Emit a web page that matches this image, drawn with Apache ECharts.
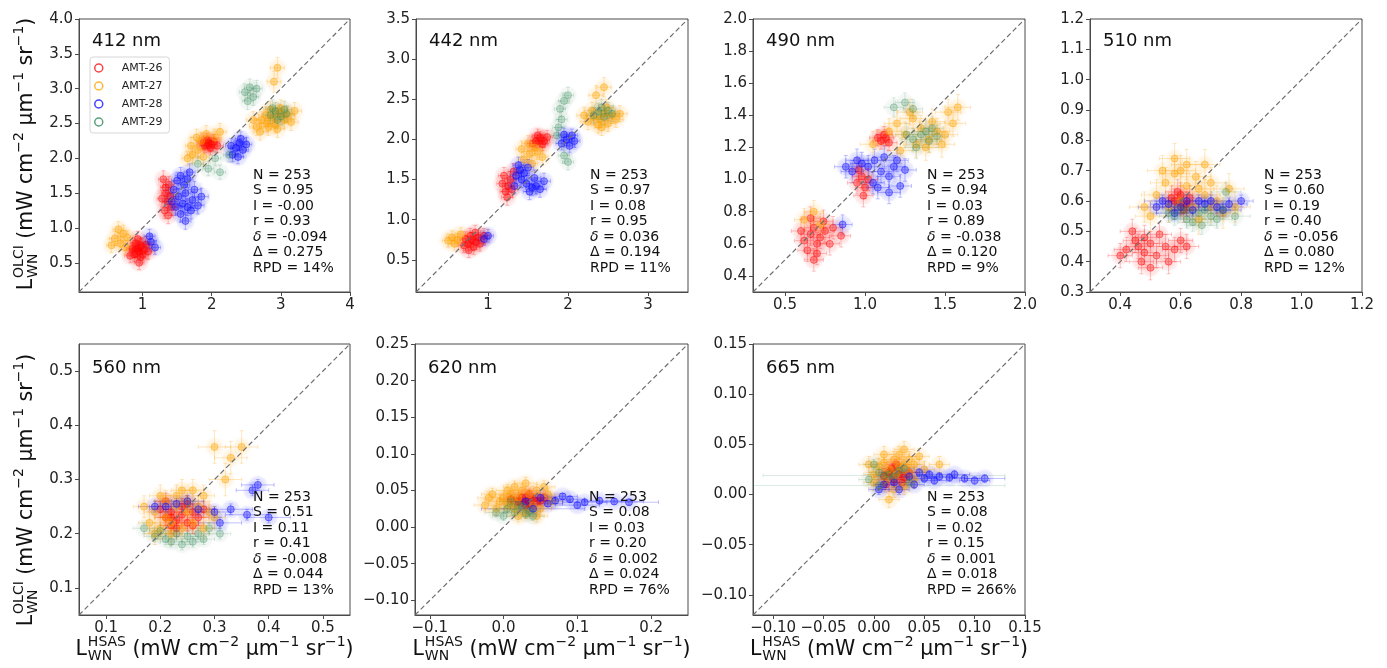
<!DOCTYPE html>
<html>
<head>
<meta charset="utf-8">
<script src="https://cdn.jsdelivr.net/npm/echarts@6/dist/echarts.min.js"></script>
<style>
  html, body { margin: 0; padding: 0; background: #ffffff; }
  #chart { width: 1387px; height: 668px; }
</style>
</head>
<body>
<div id="chart"></div>
<script>
// OLCI vs HSAS normalised water-leaving radiance match-ups, one panel per band.
// Each point: [HSAS value, OLCI value, HSAS uncertainty, OLCI uncertainty]

const cruises = ['AMT-26', 'AMT-27', 'AMT-28', 'AMT-29'];
const bands = ['412 nm', '442 nm', '490 nm', '510 nm', '560 nm', '620 nm', '665 nm'];

// ---- 412 nm ----
const amt26_412 = [[0.88,0.62,0.08,0.10],[0.92,0.70,0.07,0.12],[0.95,0.66,0.09,0.10],[0.98,0.74,0.08,0.11],[1.02,0.68,0.10,0.12],[0.90,0.78,0.07,0.10],[0.85,0.70,0.08,0.09],[0.97,0.58,0.08,0.10],[1.05,0.76,0.09,0.12],[0.93,0.84,0.07,0.11],[0.82,0.60,0.08,0.10],[1.00,0.62,0.08,0.09],[0.95,0.50,0.07,0.10],[1.08,0.66,0.09,0.11],[0.89,0.68,0.08,0.10],[0.96,0.76,0.08,0.10],
  [1.32,1.25,0.07,0.12],[1.36,1.38,0.07,0.13],[1.34,1.50,0.07,0.12],[1.38,1.62,0.08,0.12],[1.30,1.70,0.07,0.12],[1.40,1.45,0.08,0.13],[1.33,1.58,0.07,0.11],[1.28,1.42,0.07,0.12],[1.42,1.30,0.08,0.12],[1.37,1.18,0.07,0.12],
  [1.90,2.18,0.08,0.10],[1.95,2.22,0.08,0.10],[2.00,2.20,0.08,0.10],[1.93,2.26,0.08,0.10],[1.98,2.15,0.08,0.10],[2.03,2.24,0.09,0.10],[1.88,2.22,0.08,0.10],[1.96,2.19,0.08,0.10],[2.08,2.18,0.09,0.10]];
const amt27_412 = [[0.60,0.85,0.08,0.10],[0.68,0.78,0.08,0.10],[0.72,0.92,0.08,0.12],[0.55,0.75,0.07,0.10],[0.78,0.86,0.08,0.10],[0.65,0.98,0.08,0.11],[0.75,0.72,0.08,0.10],
  [1.72,2.05,0.08,0.12],[1.80,2.12,0.08,0.12],[1.85,2.25,0.08,0.12],[1.78,2.30,0.08,0.12],[1.92,2.35,0.08,0.12],[2.05,2.30,0.09,0.12],[1.70,2.18,0.08,0.12],[1.88,2.02,0.08,0.11],[2.12,2.38,0.09,0.12],[1.65,2.00,0.08,0.10],
  [2.65,2.45,0.10,0.12],[2.72,2.55,0.10,0.12],[2.80,2.50,0.10,0.12],[2.78,2.62,0.10,0.12],[2.88,2.58,0.10,0.12],[2.92,2.48,0.10,0.12],[2.98,2.65,0.10,0.12],[3.05,2.55,0.10,0.12],[3.10,2.62,0.10,0.12],[2.70,2.38,0.10,0.12],[2.85,2.70,0.10,0.12],[3.15,2.52,0.10,0.12],[2.60,2.55,0.10,0.12],[2.95,2.42,0.10,0.12],[3.00,2.72,0.10,0.12],[2.82,2.45,0.10,0.12],[2.90,3.10,0.10,0.15],[2.95,3.30,0.10,0.15],[3.20,2.68,0.10,0.12]];
const amt28_412 = [[1.45,1.55,0.08,0.12],[1.50,1.68,0.08,0.12],[1.55,1.75,0.08,0.12],[1.60,1.62,0.08,0.12],[1.65,1.70,0.08,0.12],[1.52,1.45,0.08,0.12],[1.58,1.35,0.08,0.12],[1.65,1.30,0.09,0.12],[1.72,1.40,0.09,0.12],[1.48,1.30,0.08,0.12],[1.62,1.50,0.08,0.12],[1.75,1.55,0.09,0.12],[1.70,1.25,0.09,0.12],[1.80,1.32,0.09,0.12],[1.42,1.38,0.08,0.12],[1.68,1.80,0.08,0.12],[1.55,1.20,0.08,0.12],[1.85,1.45,0.10,0.12],[1.62,1.10,0.08,0.12],
  [2.30,2.05,0.08,0.10],[2.35,2.15,0.08,0.10],[2.40,2.22,0.08,0.10],[2.45,2.12,0.08,0.10],[2.38,2.02,0.08,0.10],[2.50,2.20,0.08,0.10],[2.28,2.18,0.08,0.10],[2.42,2.28,0.08,0.10],
  [1.12,0.80,0.08,0.10],[1.18,0.72,0.08,0.10],[1.10,0.88,0.08,0.10]];
const amt29_412 = [[2.85,2.62,0.10,0.12],[2.92,2.68,0.10,0.12],[3.00,2.60,0.10,0.12],[3.05,2.70,0.10,0.12],[2.95,2.55,0.10,0.12],[3.08,2.64,0.10,0.12],[2.88,2.72,0.10,0.12],
  [2.48,2.95,0.08,0.12],[2.55,3.02,0.08,0.12],[2.60,2.88,0.08,0.12],[2.52,2.82,0.08,0.12],[2.65,3.00,0.08,0.12],
  [2.12,1.80,0.08,0.10],[1.80,1.92,0.08,0.10],[1.95,1.85,0.08,0.10],[2.25,2.05,0.08,0.10],[2.05,2.00,0.08,0.10]];

// ---- 442 nm ----
const amt26_442 = [[0.75,0.70,0.07,0.09],[0.80,0.75,0.07,0.09],[0.85,0.72,0.07,0.09],[0.78,0.80,0.07,0.09],[0.88,0.78,0.07,0.09],[0.72,0.76,0.07,0.09],[0.82,0.66,0.07,0.09],[0.90,0.70,0.07,0.09],[0.76,0.62,0.07,0.09],[0.84,0.84,0.07,0.09],[0.70,0.68,0.07,0.09],[0.95,0.80,0.07,0.09],
  [1.22,1.35,0.07,0.10],[1.25,1.42,0.07,0.10],[1.28,1.50,0.07,0.10],[1.20,1.55,0.07,0.10],[1.30,1.38,0.07,0.10],[1.24,1.28,0.07,0.10],[1.18,1.45,0.07,0.10],[1.32,1.60,0.07,0.10],
  [1.60,1.98,0.07,0.08],[1.65,2.02,0.07,0.08],[1.70,1.98,0.07,0.08],[1.62,2.05,0.07,0.08],[1.68,1.94,0.07,0.08],[1.74,2.03,0.07,0.08],[1.56,1.95,0.07,0.08],[1.66,1.99,0.07,0.08]];
const amt27_442 = [[0.55,0.78,0.07,0.08],[0.62,0.75,0.07,0.08],[0.58,0.70,0.07,0.08],[0.66,0.82,0.07,0.08],[0.50,0.74,0.07,0.08],
  [1.45,1.75,0.07,0.10],[1.52,1.82,0.07,0.10],[1.58,1.90,0.07,0.10],[1.50,1.95,0.07,0.10],[1.62,1.85,0.07,0.10],[1.42,1.88,0.07,0.10],[1.55,1.70,0.07,0.10],[1.68,1.78,0.07,0.10],
  [2.25,2.22,0.09,0.10],[2.32,2.28,0.09,0.10],[2.40,2.25,0.09,0.10],[2.45,2.32,0.09,0.10],[2.50,2.20,0.09,0.10],[2.55,2.30,0.09,0.10],[2.38,2.18,0.09,0.10],[2.30,2.36,0.09,0.10],[2.60,2.25,0.09,0.10],[2.20,2.30,0.09,0.10],[2.48,2.40,0.09,0.10],[2.65,2.32,0.09,0.10],[2.42,2.15,0.09,0.10],[2.35,2.55,0.09,0.12],[2.45,2.65,0.09,0.12]];
const amt28_442 = [[1.35,1.55,0.07,0.10],[1.40,1.62,0.07,0.10],[1.45,1.58,0.07,0.10],[1.50,1.65,0.07,0.10],[1.42,1.50,0.07,0.10],[1.48,1.45,0.07,0.10],[1.55,1.40,0.08,0.10],[1.60,1.42,0.08,0.10],[1.52,1.35,0.08,0.10],[1.38,1.68,0.07,0.10],[1.58,1.52,0.08,0.10],[1.65,1.38,0.08,0.10],[1.33,1.42,0.07,0.10],[1.70,1.48,0.08,0.10],
  [1.92,1.95,0.07,0.08],[1.98,2.00,0.07,0.08],[2.02,1.92,0.07,0.08],[2.05,2.05,0.07,0.08],[1.95,2.06,0.07,0.08],[2.08,1.98,0.07,0.08],
  [1.00,0.80,0.07,0.08],[0.95,0.76,0.07,0.08]];
const amt29_442 = [[2.32,2.30,0.09,0.10],[2.38,2.35,0.09,0.10],[2.45,2.28,0.09,0.10],[2.50,2.36,0.09,0.10],[2.42,2.40,0.09,0.10],[2.55,2.32,0.09,0.10],
  [1.88,2.15,0.07,0.10],[1.92,2.25,0.07,0.10],[1.90,2.38,0.07,0.10],[1.95,2.48,0.07,0.10],[1.86,2.05,0.07,0.10],[2.00,2.55,0.07,0.10],
  [2.00,1.72,0.07,0.10],[1.95,1.80,0.07,0.10]];

// ---- 490 nm ----
const amt26_490 = [[0.62,0.62,0.06,0.07],[0.66,0.66,0.06,0.07],[0.70,0.60,0.06,0.07],[0.68,0.70,0.06,0.07],[0.72,0.64,0.06,0.07],[0.64,0.56,0.06,0.07],[0.75,0.68,0.06,0.07],[0.70,0.54,0.06,0.07],[0.60,0.68,0.06,0.07],[0.78,0.60,0.06,0.07],[0.66,0.76,0.06,0.07],[0.74,0.74,0.06,0.07],[0.80,0.70,0.06,0.07],[0.68,0.50,0.06,0.07],[0.85,0.65,0.06,0.07],
  [0.95,0.98,0.06,0.07],[0.98,1.02,0.06,0.07],[1.00,0.95,0.06,0.07],[0.96,1.06,0.06,0.07],[1.02,1.00,0.06,0.07],[0.99,0.90,0.06,0.07],
  [1.10,1.24,0.05,0.05],[1.13,1.26,0.05,0.05],[1.15,1.23,0.05,0.05],[1.12,1.28,0.05,0.05],[1.08,1.26,0.05,0.05]];
const amt27_490 = [[1.05,1.22,0.08,0.08],[1.15,1.30,0.08,0.08],[1.20,1.35,0.08,0.08],[1.25,1.28,0.08,0.08],[1.30,1.38,0.08,0.08],[1.35,1.32,0.08,0.08],[1.40,1.25,0.08,0.08],[1.45,1.30,0.08,0.08],[1.38,1.20,0.08,0.08],[1.50,1.28,0.08,0.08],[1.32,1.22,0.08,0.08],[1.42,1.36,0.08,0.08],[1.28,1.42,0.08,0.08],[1.55,1.35,0.08,0.08],[1.22,1.18,0.08,0.08],[1.48,1.22,0.08,0.08],
  [1.58,1.45,0.08,0.08],[1.52,1.42,0.08,0.08],
  [0.62,0.75,0.06,0.07],[0.68,0.80,0.06,0.07],[0.72,0.72,0.06,0.07]];
const amt28_490 = [[0.92,1.05,0.07,0.07],[0.98,1.10,0.07,0.07],[1.02,1.08,0.07,0.07],[1.06,1.12,0.07,0.07],[1.10,1.05,0.07,0.07],[1.12,1.14,0.07,0.07],[1.15,1.02,0.07,0.07],[1.18,1.08,0.07,0.07],[1.05,0.98,0.07,0.07],[1.20,1.12,0.07,0.07],[1.25,1.06,0.07,0.07],[0.95,1.12,0.07,0.07],[1.08,0.95,0.07,0.07],[1.15,0.92,0.07,0.07],[1.22,0.96,0.07,0.07],[0.88,1.08,0.07,0.07],
  [0.86,0.72,0.06,0.06]];
const amt29_490 = [[1.30,1.25,0.07,0.07],[1.35,1.28,0.07,0.07],[1.40,1.24,0.07,0.07],[1.38,1.30,0.07,0.07],[1.45,1.27,0.07,0.07],[1.32,1.20,0.07,0.07],[1.42,1.32,0.07,0.07],[1.26,1.28,0.07,0.07],
  [1.18,1.45,0.06,0.06],[1.25,1.48,0.06,0.06],[1.30,1.44,0.06,0.06]];

// ---- 510 nm ----
const amt26_510 = [[0.42,0.44,0.04,0.04],[0.45,0.47,0.04,0.04],[0.48,0.43,0.04,0.04],[0.50,0.46,0.04,0.04],[0.52,0.42,0.04,0.04],[0.47,0.40,0.04,0.04],[0.55,0.45,0.04,0.04],[0.53,0.49,0.04,0.04],[0.58,0.44,0.04,0.04],[0.44,0.50,0.04,0.04],[0.50,0.38,0.04,0.04],[0.60,0.47,0.04,0.04],[0.56,0.40,0.04,0.04],[0.46,0.45,0.04,0.04],[0.48,0.48,0.04,0.04],[0.40,0.42,0.04,0.04],[0.62,0.45,0.04,0.04],
  [0.58,0.60,0.04,0.04],[0.60,0.62,0.04,0.04],[0.62,0.59,0.04,0.04],[0.59,0.63,0.04,0.04],[0.61,0.57,0.04,0.04],[0.57,0.61,0.04,0.04],[0.63,0.61,0.04,0.04],[0.60,0.595,0.04,0.04]];
const amt27_510 = [[0.52,0.62,0.05,0.05],[0.55,0.66,0.05,0.05],[0.58,0.69,0.05,0.05],[0.62,0.65,0.05,0.05],[0.65,0.68,0.05,0.05],[0.68,0.62,0.05,0.05],[0.70,0.66,0.05,0.05],[0.64,0.58,0.05,0.05],[0.72,0.60,0.05,0.05],[0.56,0.58,0.05,0.05],[0.60,0.70,0.05,0.05],[0.74,0.56,0.05,0.05],[0.66,0.54,0.05,0.05],[0.62,0.72,0.05,0.05],
  [0.50,0.55,0.05,0.05],[0.54,0.70,0.05,0.05],[0.68,0.72,0.05,0.05],[0.76,0.64,0.05,0.05],[0.78,0.58,0.05,0.05],[0.58,0.74,0.05,0.05],[0.66,0.64,0.05,0.05],[0.60,0.60,0.05,0.05],[0.70,0.58,0.05,0.05],[0.48,0.58,0.05,0.05]];
const amt28_510 = [[0.52,0.58,0.06,0.02],[0.56,0.59,0.06,0.02],[0.60,0.58,0.06,0.02],[0.64,0.57,0.06,0.02],[0.68,0.59,0.06,0.02],[0.72,0.58,0.06,0.02],[0.76,0.59,0.06,0.02],[0.58,0.56,0.06,0.02],[0.66,0.60,0.06,0.02],[0.80,0.60,0.04,0.02],
  [0.54,0.60,0.06,0.02],[0.62,0.60,0.06,0.02],[0.70,0.60,0.06,0.02],[0.74,0.57,0.06,0.02]];
const amt29_510 = [[0.58,0.55,0.05,0.03],[0.62,0.54,0.05,0.03],[0.66,0.56,0.05,0.03],[0.70,0.55,0.05,0.03],[0.64,0.53,0.05,0.03],[0.68,0.57,0.05,0.03],[0.72,0.54,0.05,0.03],[0.60,0.57,0.05,0.03],[0.75,0.63,0.05,0.03],
  [0.56,0.56,0.05,0.03],[0.62,0.57,0.05,0.03],[0.74,0.57,0.05,0.03],[0.67,0.52,0.05,0.03],[0.78,0.55,0.05,0.03]];

// ---- 560 nm ----
const amt26_560 = [[0.21,0.23,0.02,0.015],[0.22,0.24,0.02,0.015],[0.23,0.225,0.02,0.015],[0.24,0.235,0.02,0.015],[0.25,0.22,0.02,0.015],[0.22,0.215,0.02,0.015],[0.24,0.25,0.02,0.015],[0.26,0.24,0.02,0.015],[0.20,0.245,0.02,0.015],[0.23,0.21,0.02,0.015],[0.27,0.23,0.02,0.015],
  [0.21,0.26,0.02,0.015],[0.25,0.255,0.02,0.015],[0.28,0.245,0.02,0.015],[0.22,0.23,0.02,0.015],[0.26,0.215,0.02,0.015]];
const amt27_560 = [[0.18,0.22,0.02,0.02],[0.19,0.24,0.02,0.02],[0.20,0.21,0.02,0.02],[0.21,0.26,0.02,0.02],[0.22,0.20,0.02,0.02],[0.23,0.27,0.02,0.02],[0.24,0.21,0.02,0.02],[0.25,0.26,0.02,0.02],[0.26,0.22,0.02,0.02],[0.27,0.25,0.02,0.02],[0.28,0.21,0.02,0.02],[0.29,0.24,0.02,0.02],[0.21,0.23,0.02,0.02],[0.24,0.28,0.02,0.02],[0.22,0.22,0.02,0.02],
  [0.17,0.25,0.02,0.02],[0.20,0.27,0.02,0.02],[0.26,0.28,0.02,0.02],[0.28,0.27,0.02,0.02],[0.30,0.23,0.02,0.02],[0.19,0.20,0.02,0.02],[0.25,0.24,0.02,0.02],[0.23,0.25,0.02,0.02],
  [0.30,0.36,0.03,0.03],[0.33,0.34,0.03,0.03],[0.32,0.30,0.03,0.03],[0.35,0.36,0.03,0.03]];
const amt28_560 = [[0.19,0.25,0.03,0.01],[0.23,0.255,0.03,0.01],[0.27,0.245,0.03,0.01],[0.30,0.24,0.03,0.01],[0.33,0.245,0.04,0.01],[0.36,0.235,0.04,0.01],[0.40,0.23,0.04,0.01],[0.25,0.26,0.03,0.01],[0.38,0.29,0.03,0.01],[0.37,0.28,0.03,0.01],[0.21,0.25,0.03,0.01],[0.31,0.22,0.04,0.01]];
const amt29_560 = [[0.19,0.195,0.02,0.01],[0.21,0.19,0.02,0.01],[0.23,0.20,0.02,0.01],[0.25,0.195,0.02,0.01],[0.27,0.20,0.02,0.01],[0.22,0.185,0.02,0.01],[0.26,0.185,0.02,0.01],[0.29,0.21,0.02,0.01],[0.20,0.205,0.02,0.01],
  [0.17,0.21,0.02,0.01],[0.24,0.18,0.02,0.01],[0.28,0.19,0.02,0.01],[0.31,0.20,0.02,0.01]];

// ---- 620 nm ----
const amt26_620 = [[0.02,0.035,0.015,0.006],[0.03,0.04,0.015,0.006],[0.035,0.032,0.015,0.006],[0.04,0.038,0.015,0.006],[0.045,0.035,0.015,0.006],[0.025,0.04,0.015,0.006],[0.05,0.036,0.015,0.006],[0.03,0.03,0.015,0.006],
  [0.01,0.038,0.015,0.006],[0.055,0.04,0.015,0.006],[0.035,0.045,0.015,0.006]];
const amt27_620 = [[-0.005,0.035,0.015,0.008],[0.0,0.04,0.015,0.008],[0.005,0.03,0.015,0.008],[0.01,0.045,0.015,0.008],[0.015,0.025,0.015,0.008],[0.02,0.04,0.015,0.008],[0.025,0.05,0.015,0.008],[0.03,0.02,0.015,0.008],[0.035,0.045,0.015,0.008],[0.04,0.03,0.015,0.008],[0.045,0.05,0.015,0.008],[0.01,0.035,0.015,0.008],[0.055,0.055,0.015,0.008],[0.06,0.045,0.015,0.008],[0.02,0.015,0.015,0.008],
  [-0.02,0.04,0.015,0.008],[-0.025,0.03,0.015,0.008],[-0.01,0.025,0.015,0.008],[0.005,0.05,0.015,0.008],[0.015,0.055,0.015,0.008],[0.05,0.025,0.015,0.008],[0.065,0.035,0.015,0.008],[-0.015,0.045,0.015,0.008],[0.03,0.06,0.015,0.008],[0.045,0.015,0.015,0.008]];
const amt28_620 = [[0.03,0.035,0.02,0.004],[0.05,0.04,0.02,0.004],[0.07,0.036,0.02,0.004],[0.09,0.038,0.02,0.004],[0.11,0.034,0.03,0.004],[0.13,0.036,0.03,0.004],[0.06,0.032,0.02,0.004],[0.08,0.042,0.02,0.004],[0.10,0.03,0.03,0.004],[0.04,0.025,0.07,0.004],
  [0.15,0.035,0.04,0.004],[0.17,0.034,0.04,0.004]];
const amt29_620 = [[0.005,0.025,0.015,0.006],[0.015,0.02,0.015,0.006],[0.025,0.028,0.015,0.006],[0.035,0.022,0.015,0.006],[0.02,0.03,0.015,0.006],[0.03,0.018,0.015,0.006],
  [0.0,0.015,0.015,0.006],[0.04,0.015,0.015,0.006],[0.01,0.035,0.015,0.006],[-0.01,0.02,0.015,0.006]];

// ---- 665 nm ----
const amt26_665 = [[0.01,0.018,0.01,0.005],[0.015,0.022,0.01,0.005],[0.02,0.015,0.01,0.005],[0.025,0.02,0.01,0.005],[0.03,0.017,0.01,0.005],[0.018,0.026,0.01,0.005],[0.028,0.012,0.01,0.005],
  [0.035,0.022,0.01,0.005],[0.012,0.01,0.01,0.005],[0.022,0.03,0.01,0.005]];
const amt27_665 = [[0.0,0.02,0.01,0.008],[0.005,0.028,0.01,0.008],[0.01,0.032,0.01,0.008],[0.015,0.025,0.01,0.008],[0.02,0.035,0.01,0.008],[0.025,0.028,0.01,0.008],[0.03,0.03,0.01,0.008],[0.035,0.022,0.01,0.008],[0.04,0.03,0.01,0.008],[0.012,0.015,0.01,0.008],[0.022,0.02,0.01,0.008],[0.045,0.038,0.01,0.008],[0.03,0.008,0.01,0.008],[0.015,-0.005,0.01,0.008],[0.065,0.03,0.01,0.008],
  [-0.005,0.03,0.01,0.008],[0.01,0.04,0.01,0.008],[0.025,0.04,0.01,0.008],[0.035,0.035,0.01,0.008],[0.04,0.015,0.01,0.008],[0.0,0.012,0.01,0.008],[0.02,0.005,0.01,0.008],[0.05,0.025,0.01,0.008],[0.03,0.045,0.01,0.008]];
const amt28_665 = [[0.01,0.01,0.01,0.005],[0.02,0.012,0.01,0.005],[0.035,0.018,0.01,0.004],[0.05,0.016,0.012,0.004],[0.055,0.02,0.012,0.004],[0.065,0.018,0.015,0.004],[0.075,0.017,0.015,0.004],[0.09,0.016,0.015,0.004],[0.11,0.016,0.02,0.004],[0.045,0.022,0.01,0.004],[0.005,0.005,0.01,0.005],[0.025,0.005,0.01,0.005],
  [0.04,0.01,0.01,0.004],[0.06,0.014,0.012,0.004],[0.08,0.02,0.015,0.004],[0.10,0.014,0.015,0.004]];
const amt29_665 = [[0.005,0.022,0.01,0.005],[0.015,0.02,0.01,0.005],[0.025,0.024,0.01,0.005],[0.02,0.018,0.01,0.005],[0.03,0.026,0.01,0.005],
  [-0.005,0.015,0.01,0.005],[0.035,0.012,0.01,0.005],[0.0,0.03,0.01,0.005],
  [0.01,0.019,0.12,0.003],[0.005,0.009,0.125,0.003]];

// Match-up statistics per band
const statN     = ['253', '253', '253', '253', '253', '253', '253'];
const statS     = ['0.95', '0.97', '0.94', '0.60', '0.51', '0.08', '0.08'];
const statI     = ['-0.00', '0.08', '0.03', '0.19', '0.11', '0.03', '0.02'];
const statR     = ['0.93', '0.95', '0.89', '0.40', '0.41', '0.20', '0.15'];
const statDelta = ['-0.094', '0.036', '-0.038', '-0.056', '-0.008', '0.002', '0.001'];
const statAbs   = ['0.275', '0.194', '0.120', '0.080', '0.044', '0.024', '0.018'];
const statRPD   = ['14', '11', '9', '12', '13', '76', '266'];

// Axis extents (same for x and y in each panel) and tick labels
const axisMin = [0.08, 0.1, 0.3, 0.3, 0.05, -0.12, -0.12];
const axisMax = [4.0, 3.5, 2.0, 1.2, 0.55, 0.25, 0.15];
const xTickLabels = [
  ['1', '2', '3', '4'],
  ['1', '2', '3'],
  ['0.5', '1.0', '1.5', '2.0'],
  ['0.4', '0.6', '0.8', '1.0', '1.2'],
  ['0.1', '0.2', '0.3', '0.4', '0.5'],
  ['−0.1', '0.0', '0.1', '0.2'],
  ['−0.10', '−0.05', '0.00', '0.05', '0.10', '0.15']
];
const yTickLabels = [
  ['0.5', '1.0', '1.5', '2.0', '2.5', '3.0', '3.5', '4.0'],
  ['0.5', '1.0', '1.5', '2.0', '2.5', '3.0', '3.5'],
  ['0.4', '0.6', '0.8', '1.0', '1.2', '1.4', '1.6', '1.8', '2.0'],
  ['0.3', '0.4', '0.5', '0.6', '0.7', '0.8', '0.9', '1.0', '1.1', '1.2'],
  ['0.1', '0.2', '0.3', '0.4', '0.5'],
  ['−0.10', '−0.05', '0.00', '0.05', '0.10', '0.15', '0.20', '0.25'],
  ['−0.10', '−0.05', '0.00', '0.05', '0.10', '0.15']
];

const bandData = [
  [amt26_412, amt27_412, amt28_412, amt29_412],
  [amt26_442, amt27_442, amt28_442, amt29_442],
  [amt26_490, amt27_490, amt28_490, amt29_490],
  [amt26_510, amt27_510, amt28_510, amt29_510],
  [amt26_560, amt27_560, amt28_560, amt29_560],
  [amt26_620, amt27_620, amt28_620, amt29_620],
  [amt26_665, amt27_665, amt28_665, amt29_665]
];

// ---- layout & styling ----
const FONT = '"DejaVu Sans", "Liberation Sans", sans-serif';
const cruiseColors = ['#ff1010', '#ffa500', '#1010ff', '#2e8b57'];
const cruiseAlpha = [1, 1, 1, 0.65];
const panelBoxes = [
  [79, 19, 271, 273], [416, 19, 272, 273], [753, 19, 272, 273], [1090, 19, 272, 273],
  [79, 344, 271, 271], [415, 344, 273, 271], [753, 344, 272, 271]
];
const frameColor = '#4a4a4a';
const textColor = '#222222';

function rgba(hex, a) {
  const n = parseInt(hex.slice(1), 16);
  return 'rgba(' + (n >> 16 & 255) + ',' + (n >> 8 & 255) + ',' + (n & 255) + ',' + a.toFixed(3) + ')';
}
function tickValues(labels) {
  return labels.map(s => parseFloat(s.replace('−', '-')));
}
function tickFormatter(labels) {
  const vals = tickValues(labels);
  return v => {
    const k = vals.findIndex(t => Math.abs(t - v) < 1e-9);
    return k >= 0 ? labels[k] : '';
  };
}

const grids = [], xAxes = [], yAxes = [], series = [], graphics = [];

panelBoxes.forEach((b, i) => {
  grids.push({ left: b[0], top: b[1], width: b[2], height: b[3], show: true,
    borderColor: frameColor, borderWidth: 1, backgroundColor: 'transparent' });
  const common = (labels) => ({
    gridIndex: i, type: 'value', min: axisMin[i], max: axisMax[i],
    axisLine: { show: true, onZero: false, lineStyle: { color: frameColor, width: 1 } },
    axisTick: { show: true, inside: false, length: 4, customValues: tickValues(labels),
      lineStyle: { color: frameColor, width: 1 } },
    axisLabel: { customValues: tickValues(labels), formatter: tickFormatter(labels),
      fontFamily: FONT, fontSize: 15, color: textColor, margin: 6, hideOverlap: false },
    splitLine: { show: false }
  });
  xAxes.push(common(xTickLabels[i]));
  yAxes.push(common(yTickLabels[i]));

  bandData[i].forEach((pts, c) => {
    const col = cruiseColors[c];
    const k = cruiseAlpha[c];
    // soft halo around each match-up
    series.push({
      type: 'scatter', name: cruises[c], xAxisIndex: i, yAxisIndex: i, silent: true, z: 0,
      data: pts, encode: { x: 0, y: 1 }, symbol: 'circle', symbolSize: 18,
      itemStyle: { color: rgba(col, 0.07 * k), shadowBlur: 12, shadowColor: rgba(col, 0.3 * k) }
    });
    // error bars
    series.push({
      type: 'custom', name: cruises[c], xAxisIndex: i, yAxisIndex: i, silent: true, clip: true, z: 1,
      data: pts, encode: { x: 0, y: 1 },
      renderItem: (params, api) => {
        const x = api.value(0), y = api.value(1), ex = api.value(2), ey = api.value(3);
        const a0 = api.coord([x - ex, y]), a1 = api.coord([x + ex, y]);
        const b0 = api.coord([x, y - ey]), b1 = api.coord([x, y + ey]);
        const st = { stroke: rgba(col, 0.25 * k), lineWidth: 1 };
        const cap = 2;
        return { type: 'group', children: [
          { type: 'line', shape: { x1: a0[0], y1: a0[1], x2: a1[0], y2: a1[1] }, style: st },
          { type: 'line', shape: { x1: b0[0], y1: b0[1], x2: b1[0], y2: b1[1] }, style: st },
          { type: 'line', shape: { x1: a0[0], y1: a0[1] - cap, x2: a0[0], y2: a0[1] + cap }, style: st },
          { type: 'line', shape: { x1: a1[0], y1: a1[1] - cap, x2: a1[0], y2: a1[1] + cap }, style: st },
          { type: 'line', shape: { x1: b0[0] - cap, y1: b0[1], x2: b0[0] + cap, y2: b0[1] }, style: st },
          { type: 'line', shape: { x1: b1[0] - cap, y1: b1[1], x2: b1[0] + cap, y2: b1[1] }, style: st }
        ] };
      }
    });
    // markers
    series.push({
      type: 'scatter', name: cruises[c], xAxisIndex: i, yAxisIndex: i, silent: true, z: 2,
      data: pts, encode: { x: 0, y: 1 }, symbol: 'circle', symbolSize: 7,
      itemStyle: { color: rgba(col, 0.4 * k), borderColor: rgba(col, 0.6 * k), borderWidth: 1,
        shadowBlur: 7, shadowColor: rgba(col, 0.6 * k) }
    });
  });

  // 1:1 line
  series.push({
    type: 'line', xAxisIndex: i, yAxisIndex: i, silent: true, z: 5, symbol: 'none',
    data: [[axisMin[i], axisMin[i]], [axisMax[i], axisMax[i]]],
    lineStyle: { color: '#6f6f6f', width: 1.2, type: [5, 3] }
  });

  // band title
  graphics.push({ type: 'text', x: b[0] + 13, y: b[1] + (i < 4 ? 22.5 : 24.5), z: 10,
    style: { text: bands[i], fontFamily: FONT, fontSize: 18, fill: '#111',
      align: 'left', verticalAlign: 'middle', textAlign: 'left', textVerticalAlign: 'middle' } });

  // statistics block
  const lines = [
    'N = ' + statN[i], 'S = ' + statS[i], 'I = ' + statI[i], 'r = ' + statR[i],
    '{d|δ} = ' + statDelta[i], 'Δ = ' + statAbs[i], 'RPD = ' + statRPD[i] + '%'
  ];
  graphics.push({ type: 'text', x: b[0] + 174, y: b[1] + (i < 4 ? 148.4 : 145.4), z: 10,
    style: { text: lines.join('\n'), fontFamily: FONT, fontSize: 14, lineHeight: 15.5, fill: '#111',
      align: 'left', verticalAlign: 'top', textAlign: 'left', textVerticalAlign: 'top',
      rich: { d: { fontFamily: FONT, fontSize: 14, fontStyle: 'italic', lineHeight: 15.5, fill: '#111' } } } });
});

// Axis titles with stacked super/subscripts
const mctx = document.createElement('canvas').getContext('2d');
function textWidth(t, size) {
  mctx.font = size + 'px ' + FONT;
  return mctx.measureText(t).width;
}
function axisTitle(cx, cy, vertical, sensor) {
  const F = 20.5, f = 14, up = -7.5, down = 6;
  const pieces = [
    { t: 'L', s: F, dy: 0 },
    { stack: [sensor, 'WN'] },
    { t: ' (mW cm', s: F, dy: 0 }, { t: '−2', s: f, dy: up },
    { t: ' μm', s: F, dy: 0 }, { t: '−1', s: f, dy: up },
    { t: ' sr', s: F, dy: 0 }, { t: '−1', s: f, dy: up },
    { t: ')', s: F, dy: 0 }
  ];
  let total = 0;
  pieces.forEach(p => {
    p.w = p.stack ? Math.max(textWidth(p.stack[0], f), textWidth(p.stack[1], f)) + 1 : textWidth(p.t, p.s);
    total += p.w;
  });
  const children = [];
  let x = -total / 2;
  const mk = (t, s, px, py) => ({ type: 'text', x: px, y: py,
    style: { text: t, fontFamily: FONT, fontSize: s, fill: '#111',
      align: 'left', verticalAlign: 'middle', textAlign: 'left', textVerticalAlign: 'middle' } });
  pieces.forEach(p => {
    if (p.stack) {
      children.push(mk(p.stack[0], f, x + 1, up));
      children.push(mk(p.stack[1], f, x + 1, down));
    } else {
      children.push(mk(p.t, p.s, x, p.dy));
    }
    x += p.w;
  });
  return { type: 'group', x: cx, y: cy, rotation: vertical ? Math.PI / 2 : 0, z: 10, children };
}
graphics.push(axisTitle(27, 154, true, 'OLCI'));
graphics.push(axisTitle(27, 490, true, 'OLCI'));
[4, 5, 6].forEach(i => {
  const b = panelBoxes[i];
  graphics.push(axisTitle(b[0] + b[2] / 2, 650, false, 'HSAS'));
});

const chart = echarts.init(document.getElementById('chart'), null, { renderer: 'canvas' });
chart.setOption({
  animation: false,
  backgroundColor: '#ffffff',
  grid: grids,
  xAxis: xAxes,
  yAxis: yAxes,
  legend: {
    left: 90, top: 57, orient: 'vertical', selectedMode: false, z: 20,
    data: cruises.map((n, k) => ({ name: n, icon: 'circle',
      itemStyle: { color: '#ffffff', borderColor: cruiseColors[k], borderWidth: 1.5 } })),
    itemWidth: 24, itemHeight: 8, itemGap: 4, padding: [4, 7, 4, 4],
    textStyle: { fontFamily: FONT, fontSize: 11, color: textColor, lineHeight: 14, padding: [0, 0, 0, 6] },
    backgroundColor: 'rgba(255,255,255,0.8)', borderColor: '#d6d6d6', borderWidth: 1, borderRadius: 3
  },
  graphic: graphics,
  series: series
});
</script>
</body>
</html>
